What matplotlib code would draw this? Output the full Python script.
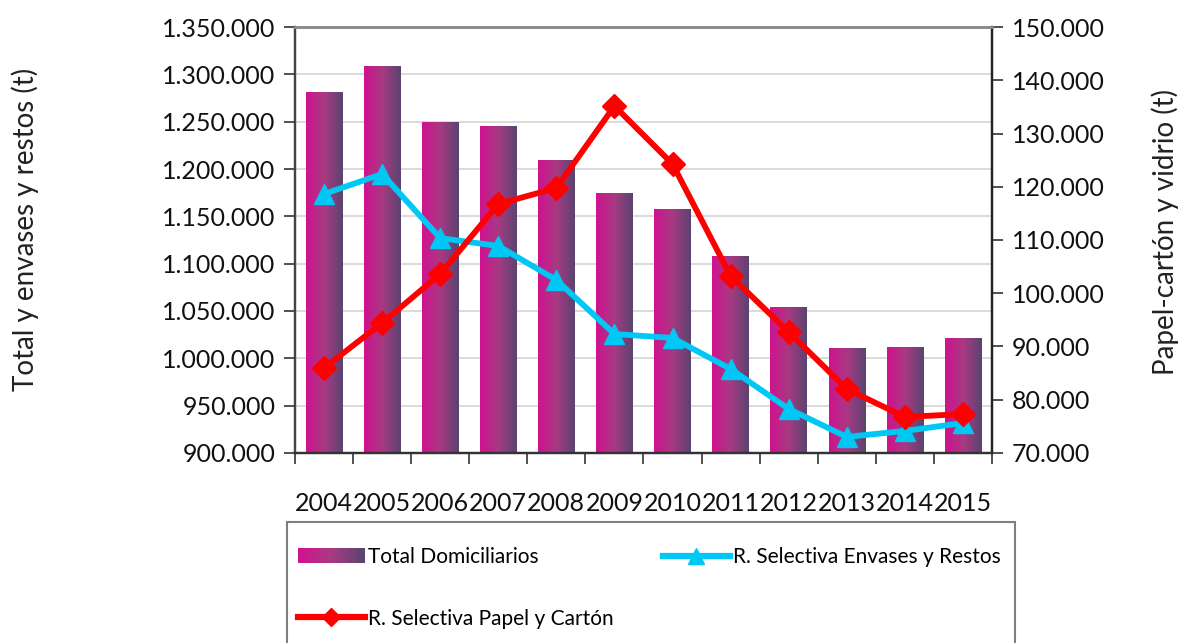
import numpy as np
import matplotlib
matplotlib.use("Agg")
import matplotlib.pyplot as plt
from matplotlib.colors import LinearSegmentedColormap
from matplotlib.patches import Rectangle
from matplotlib.lines import Line2D
from matplotlib.legend_handler import HandlerBase
from matplotlib.ticker import FuncFormatter, MultipleLocator, FixedLocator

plt.rcParams['font.family'] = ['Lato', 'DejaVu Sans']

years = ['2004', '2005', '2006', '2007', '2008', '2009', '2010', '2011', '2012', '2013', '2014', '2015']
total_domiciliarios = [1281000, 1308800, 1249700, 1245500, 1209500, 1174600,
                       1157700, 1108000, 1054200, 1011000, 1012000, 1021500]
envases_restos = [1173600, 1194700, 1127000, 1118700, 1082800, 1025700,
                  1021500, 988800, 946500, 917000, 923300, 931700]
papel_carton = [85960, 94410, 103610, 116760, 119760, 135160,
                124270, 103240, 92720, 82020, 76760, 77320]

bar_cmap = LinearSegmentedColormap.from_list('bar', ['#d0128f', '#a83a82', '#5a4470'])
cyan = '#00c8f5'
red = '#ff0000'


def dots(v, pos):
    return '{:,.0f}'.format(v).replace(',', '.')


class GradientHandler(HandlerBase):
    def create_artists(self, legend, orig_handle, xdescent, ydescent,
                       width, height, fontsize, trans):
        n = 30
        arts = []
        for i in range(n):
            r = Rectangle((-xdescent + width * i / n, -ydescent),
                          width / n * 1.05, height,
                          facecolor=bar_cmap(i / (n - 1)), edgecolor='none',
                          transform=trans)
            arts.append(r)
        return arts


fig = plt.figure(figsize=(11.79, 6.43), dpi=100)
ax = fig.add_axes([0.2502, 0.2955, 0.5912, 0.6625])
ax2 = ax.twinx()

x = np.arange(len(years))
bars = ax.bar(x, total_domiciliarios, width=0.63, color='none', edgecolor='none', zorder=2)
grad = np.linspace(0, 1, 64).reshape(1, -1)
for b in bars:
    im = ax.imshow(grad, extent=(b.get_x(), b.get_x() + b.get_width(), 900000, b.get_height()),
                   aspect='auto', cmap=bar_cmap, zorder=2, interpolation='bilinear')
    im.set_clip_path(b)

ax.plot(x, envases_restos, color=cyan, lw=4.2, marker='^', markersize=15,
        zorder=4, clip_on=False)
ax2.plot(x, papel_carton, color=red, lw=4.2, marker='D', markersize=12,
         zorder=4, clip_on=False)

ax.set_xlim(-0.5, len(years) - 0.5)
ax.set_ylim(900000, 1350000)
ax2.set_ylim(70000, 150000)
ax.yaxis.set_major_locator(MultipleLocator(50000))
ax2.yaxis.set_major_locator(MultipleLocator(10000))
ax.yaxis.set_major_formatter(FuncFormatter(dots))
ax2.yaxis.set_major_formatter(FuncFormatter(dots))

ax.set_xticks(x)
ax.set_xticklabels(years)
ax.xaxis.set_minor_locator(FixedLocator(np.arange(-0.5, len(years), 1)))
ax.tick_params(axis='x', which='major', length=0, labelsize=18, pad=28)
ax.tick_params(axis='x', which='minor', length=8, width=1.2, color='#333333')
ax.tick_params(axis='y', length=8, width=1.2, color='#333333', labelsize=18, pad=6)
ax2.tick_params(axis='y', length=8, width=1.2, color='#333333', labelsize=18, pad=6)
for lab in ax.get_xticklabels() + ax.get_yticklabels() + ax2.get_yticklabels():
    lab.set_color('#111111')

ax.grid(axis='y', color='#d4d4d4', lw=1.2, zorder=0)
ax.set_axisbelow(True)

for a in (ax, ax2):
    a.spines['top'].set_color('#8c8c8c')
    a.spines['top'].set_linewidth(2)
    a.spines['left'].set_color('#444444')
    a.spines['left'].set_linewidth(1.6)
    a.spines['right'].set_color('#222222')
    a.spines['right'].set_linewidth(1.6)
    a.spines['bottom'].set_color('#333333')
    a.spines['bottom'].set_linewidth(1.6)

fig.text(0.021, 1 - 229 / 643, 'Total y envases y restos (t)', rotation=90,
         fontsize=20, va='center', ha='center', color='#222222')
fig.text(0.988, 1 - 232 / 643, 'Papel-cartón y vidrio (t)', rotation=90,
         fontsize=20, va='center', ha='center', color='#222222')

# legend frame runs off the bottom of the figure
frame = Rectangle((287 / 1179, -0.05), (1015 - 287) / 1179, (643 - 522) / 643 + 0.05,
                  transform=fig.transFigure, facecolor='white', edgecolor='#7f7f7f',
                  lw=1.5)
fig.patches.append(frame)

h_total = Rectangle((0, 0), 1, 1)
h_env = Line2D([], [], color=cyan, lw=4.5, marker='^', markersize=12)
h_pap = Line2D([], [], color=red, lw=4.5, marker='D', markersize=9)
leg_kw = dict(loc='upper left', frameon=False, fontsize=15, handlelength=3.2,
              handletextpad=0.15, labelspacing=2.0, borderaxespad=0, borderpad=0,
              handler_map={Rectangle: GradientHandler()})
fig.legend([h_total, h_pap], ['Total Domiciliarios', 'R. Selectiva Papel y Cartón'],
           bbox_to_anchor=(298 / 1179, 1 - 547 / 643), **leg_kw)
fig.legend([h_env], ['R. Selectiva Envases y Restos'],
           bbox_to_anchor=(663 / 1179, 1 - 547 / 643), **leg_kw)

fig.savefig('out.png', dpi=100)
